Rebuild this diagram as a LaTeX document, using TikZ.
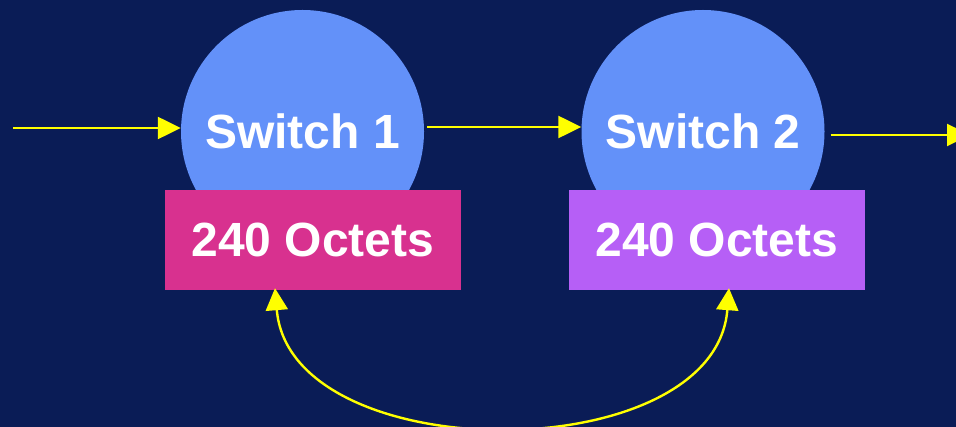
\documentclass[tikz,border=0pt]{standalone}
\usepackage{fontspec}
\setmainfont{Liberation Sans}
\usetikzlibrary{arrows.meta}
\definecolor{bg}{HTML}{0A1C56}
\definecolor{sw}{HTML}{6391F9}
\definecolor{oa}{HTML}{D8318F}
\definecolor{ob}{HTML}{B65FF6}
\definecolor{yl}{HTML}{FFFF00}
\begin{document}
\begin{tikzpicture}[x=1pt,y=-1pt,
  lbl/.style={text=white,font=\fontsize{48}{56}\selectfont\bfseries},
  switchnode/.style={circle,fill=sw,minimum size=243pt,inner sep=0pt,lbl},
  octbox/.style={rectangle,minimum width=296pt,minimum height=100pt,inner sep=0pt,lbl},
  tipk/.style={Triangle[length=23pt,width=22pt]},
  link/.style={draw=yl,line width=2.4pt,-{Triangle[length=23pt,width=22pt]}},
  loop/.style={draw=yl,line width=2.4pt,{Triangle[length=22pt,width=22pt]}-{Triangle[length=22pt,width=22pt]}}
]
\fill[bg] (0,0) rectangle (956,427);
\useasboundingbox (0,0) rectangle (956,427);
\clip (0,0) rectangle (956,427);

\node[switchnode] (s1) at (302.5,131.5) {Switch 1};
\node[switchnode] (s2) at (703,131.5) {Switch 2};
\node[octbox,fill=oa] (r1) at (313,240) {240 Octets};
\node[octbox,fill=ob] (r2) at (717,240) {240 Octets};

\coordinate (inA) at (13,128);
\coordinate (midA) at (427,127);
\coordinate (outB) at (970,135);

\draw[link] (inA) -- (inA -| s1.west);
\draw[link] (midA) -- (midA -| s2.west);
\draw[link] ([shift={(6,3.5)}]s2.east) -- (outB);

\draw[loop] ([shift={(-38,-2)}]r1.south) .. controls +(15,182) and +(-14,182) .. ([shift={(12,-2)}]r2.south);
\end{tikzpicture}
\end{document}
